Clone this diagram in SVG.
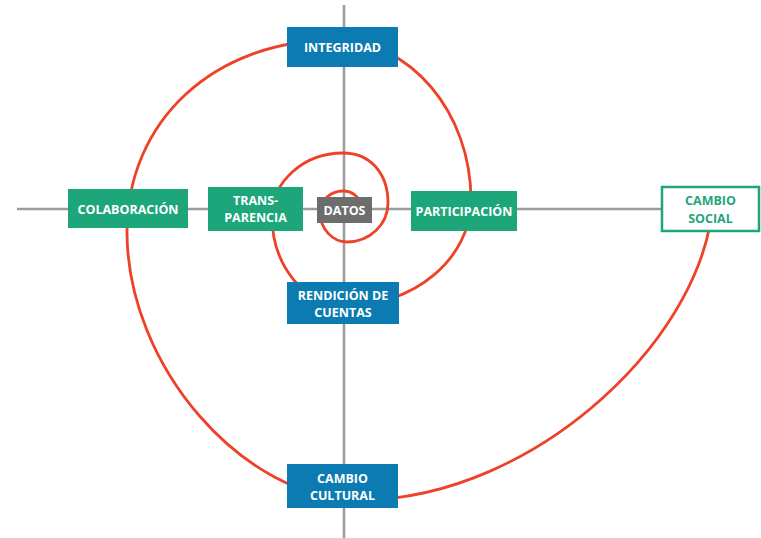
<svg xmlns="http://www.w3.org/2000/svg" width="761" height="538" viewBox="0 0 761 538">
<style>
.axis{stroke:#9b9b9b;stroke-width:2.5;fill:none}
.spiral{stroke:#ee4128;stroke-width:2.8;fill:none}
.blue{fill:#0b7bb1}
.green{fill:#1ea67b}
.gray{fill:#6d6d6d}
.outline{fill:#ffffff;stroke:#1ea67b;stroke-width:2.5}
text{font-family:"Open Sans","Liberation Sans",sans-serif;font-weight:bold;font-size:12.5px;text-anchor:middle;fill:#ffffff}
text.g{fill:#1ea67b}
</style>
<rect width="761" height="538" fill="#ffffff"/>
<g id="connectors">
<line class="axis" x1="17" y1="209" x2="662" y2="209"/>
<line class="axis" x1="344" y1="5" x2="344" y2="538"/>
<path class="spiral" d="M361 207 C361 198.2 352.9 191 343 191 C330.4 191 320 200.5 320 212 C320 228.5 332.2 242 347 242 C369.6 242 388 224.5 388 203 C388 173 370 153 343 153 C304 153 272 181.3 272 216 C272 265.5 305 306 345 306 C414.3 306 471 258.3 471 200 C471 112 409.8 40 335 40 C214.4 40 127 120.6 127 232 C127 366 243.5 500 360 500 C536.5 500 713 330.6 713 192"/>
</g>
<g id="integridad"><rect class="blue" x="287" y="27" width="111" height="40"/><text x="342.5" y="51.5">INTEGRIDAD</text></g>
<g id="rendicion"><rect class="blue" x="287" y="282" width="112" height="42"/><text x="343" y="299.5">RENDICIÓN DE</text><text x="343" y="316.5">CUENTAS</text></g>
<g id="cambio-cultural"><rect class="blue" x="287" y="464" width="111" height="44"/><text x="342.5" y="482.5">CAMBIO</text><text x="342.5" y="499.5">CULTURAL</text></g>
<g id="datos"><rect class="gray" x="317" y="197" width="55" height="26"/><text x="344.5" y="214.5">DATOS</text></g>
<g id="transparencia"><rect class="green" x="208" y="187" width="95" height="44"/><text x="255.5" y="204.5">TRANS-</text><text x="255.5" y="221.5">PARENCIA</text></g>
<g id="participacion"><rect class="green" x="411" y="191" width="106" height="40"/><text x="464" y="215.5">PARTICIPACIÓN</text></g>
<g id="colaboracion"><rect class="green" x="68" y="189" width="120" height="39"/><text x="128" y="213.5">COLABORACIÓN</text></g>
<g id="cambio-social"><rect class="outline" x="662" y="187" width="97" height="44"/><text class="g" x="710.5" y="204.5">CAMBIO</text><text class="g" x="710.5" y="222.5">SOCIAL</text></g>
</svg>
